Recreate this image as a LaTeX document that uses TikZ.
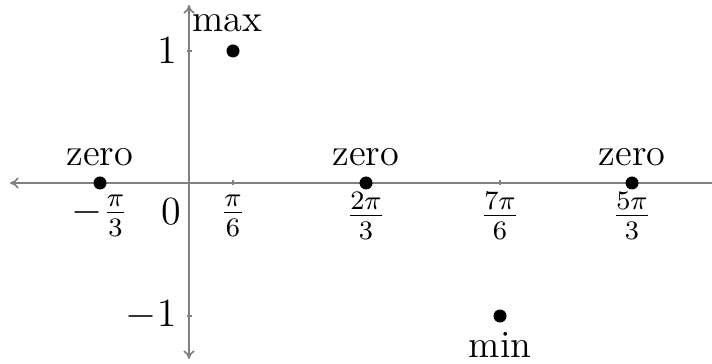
\documentclass[tikz,border=0pt]{standalone}
\usetikzlibrary{arrows.meta}
\begin{document}
\begin{tikzpicture}[x=0.3pt,y=-0.3pt,
  axis/.style={draw=gray, line width=0.5pt, {To[length=2.6pt,width=3.4pt]}-{To[length=2.6pt,width=3.4pt]}},
  tick/.style={draw=gray, line width=0.5pt},
  pt/.style={circle, fill=black, inner sep=0pt, minimum size=3.9pt},
  lbl/.style={inner sep=0pt, font=\fontsize{11.5}{13.5}\selectfont}]
\useasboundingbox (0,0) rectangle (712,364);
% axes
\coordinate (xl) at (10,183);
\coordinate (xr) at (724,183);
\coordinate (yt) at (189,5);
\coordinate (yb) at (189,359);
\draw[axis] (xl) -- (xr);
\draw[axis] (yb) -- (yt);
% ticks
\foreach \name/\x in {ta/100,tb/233,tc/366,td/500,te/632}{
  \coordinate (\name u) at (\x,180.5);
  \coordinate (\name d) at (\x,185.5);
  \draw[tick] (\name u) -- (\name d);
}
\foreach \name/\y in {ty1/51,ty2/316}{
  \coordinate (\name l) at (186.5,\y);
  \coordinate (\name r) at (191.5,\y);
  \draw[tick] (\name l) -- (\name r);
}
% points
\node[pt] (z1) at (100,183) {};
\node[pt] (z2) at (366,183) {};
\node[pt] (z3) at (632,183) {};
\node[pt] (mx) at (233,51) {};
\node[pt] (mn) at (500,316) {};
% point labels
\node[lbl] (lz1) at (100,157) {zero};
\node[lbl] (lz2) at (366,157) {zero};
\node[lbl] (lz3) at (632,157) {zero};
\node[lbl] (lmx) at (227,23) {max};
\node[lbl] (lmn) at (500,345) {min};
% tick labels
\node[lbl] (xa) at (100,216) {$-\frac{\pi}{3}$};
\node[lbl] (xb) at (233,216) {$\frac{\pi}{6}$};
\node[lbl] (xc) at (366,216) {$\frac{2\pi}{3}$};
\node[lbl] (xd) at (500,216) {$\frac{7\pi}{6}$};
\node[lbl] (xe) at (632,216) {$\frac{5\pi}{3}$};
\node[lbl] (o) at (171,212) {$0$};
\node[lbl] (y1) at (167,51) {$1$};
\node[lbl] (ym1) at (151,315) {$-1$};
\end{tikzpicture}
\end{document}
